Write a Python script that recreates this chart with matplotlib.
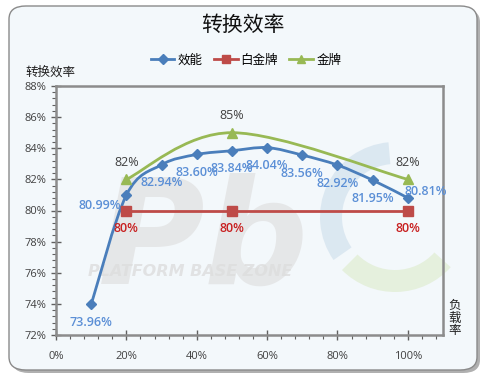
import numpy as np
import matplotlib
matplotlib.use('Agg')
import matplotlib.pyplot as plt
from matplotlib.path import Path
from matplotlib.patches import PathPatch, FancyBboxPatch, Wedge
from matplotlib.ticker import MultipleLocator, FuncFormatter

plt.rcParams['font.family'] = ['Noto Sans CJK SC', 'DejaVu Sans']

# data
load = [10, 20, 30, 40, 50, 60, 70, 80, 90, 100]
eff = [73.96, 80.99, 82.94, 83.60, 83.84, 84.04, 83.56, 82.92, 81.95, 80.81]
plat_load = [20, 50, 100]
plat_eff = [80, 80, 80]
gold_load = [20, 50, 100]
gold_eff = [82, 85, 82]

blue = '#4a7ebb'
blue_lbl = '#5b8fd6'
red = '#be4b48'
red_lbl = '#c82020'
green = '#98b954'


def smooth(xs, ys):
    # excel-style smoothed line as cubic bezier segments
    p = np.column_stack([xs, ys]).astype(float)
    verts = [p[0]]
    codes = [Path.MOVETO]
    n = len(p)
    for i in range(n - 1):
        p0 = p[i - 1] if i > 0 else p[i]
        p3 = p[i + 2] if i + 2 < n else p[i + 1]
        c1 = p[i] + (p[i + 1] - p0) / 6
        c2 = p[i + 1] - (p3 - p[i]) / 6
        verts += [c1, c2, p[i + 1]]
        codes += [Path.CURVE4] * 3
    return Path(verts, codes)


fig = plt.figure(figsize=(4.83, 3.75), dpi=100)
fig.patch.set_facecolor('white')

# rounded chart frame with shadow
shadow = FancyBboxPatch((12 / 483, 2 / 375), 468 / 483, 364 / 375,
                        boxstyle='round,pad=0,rounding_size=0.035',
                        transform=fig.transFigure, fc='#b0b0b0', ec='none', zorder=-3)
fig.patches.append(shadow)
frame = FancyBboxPatch((9 / 483, 5 / 375), 468 / 483, 364 / 375,
                       boxstyle='round,pad=0,rounding_size=0.035',
                       transform=fig.transFigure, fc='#f3f8fb', ec='#8a8a8a', lw=1.0, zorder=-2)
fig.patches.append(frame)

# watermark swooshes (inches from bottom-left)
fig.patches.append(Wedge((3.95, 1.58), 0.75, 95, 215, width=0.22, fc='#d6e4ef',
                         ec='none', alpha=0.8, transform=fig.dpi_scale_trans, zorder=-1))
fig.patches.append(Wedge((3.95, 1.58), 0.75, 225, 318, width=0.22, fc='#e2eed6',
                         ec='none', alpha=0.8, transform=fig.dpi_scale_trans, zorder=-1))

ax = fig.add_axes([56 / 483, 1 - 335 / 375, 387 / 483, 249 / 375])
ax.set_facecolor('none')
ax.set_zorder(1)

# watermark text
ax.text(12, 75.3, 'Pb', fontsize=105, fontweight='bold', style='italic',
        color='#e0e0e0', alpha=0.7, family='DejaVu Sans', zorder=0)
ax.text(9, 76.05, 'PLATFORM BASE ZONE', fontsize=11.5, fontweight='bold', style='italic',
        color='#dddddd', alpha=0.8, family='DejaVu Sans', va='center', zorder=0)

# lines
ax.add_patch(PathPatch(smooth(load, eff), fill=False, ec=blue, lw=2, zorder=3))
ax.plot(load, eff, ls='none', marker='D', ms=5.5, color=blue, zorder=4)
ax.plot(plat_load, plat_eff, color=red, lw=2, marker='s', ms=7, zorder=3)
ax.add_patch(PathPatch(smooth(gold_load, gold_eff), fill=False, ec=green, lw=2, zorder=3))
ax.plot(gold_load, gold_eff, ls='none', marker='^', ms=7, color=green, zorder=4)

# legend proxies
h1, = ax.plot([], [], color=blue, lw=2, marker='D', ms=5)
h2, = ax.plot([], [], color=red, lw=2, marker='s', ms=6)
h3, = ax.plot([], [], color=green, lw=2, marker='^', ms=6)
fig.legend([h1, h2, h3], ['效能', '白金牌', '金牌'], loc='center',
           bbox_to_anchor=(246 / 483, 1 - 60 / 375), ncol=3, frameon=False,
           fontsize=9, handlelength=1.9, columnspacing=0.9, handletextpad=0.25)

# data labels
lbl_font = dict(fontsize=9, family=['Open Sans', 'DejaVu Sans'], fontweight='semibold',
                ha='center', va='center')
offsets = {10: (0, -18), 20: (-27, -10), 100: (18, 6)}
for x, y in zip(load, eff):
    dx, dy = offsets.get(x, (0, -18))
    ax.annotate(f'{y:.2f}%', (x, y), xytext=(dx, dy), textcoords='offset pixels',
                color=blue_lbl, zorder=5, **lbl_font)
for x, y in zip(plat_load, plat_eff):
    ax.annotate(f'{y:.0f}%', (x, y), xytext=(0, -18), textcoords='offset pixels',
                color=red_lbl, zorder=5, **lbl_font)
gold_font = dict(lbl_font, fontweight='normal')
for x, y in zip(gold_load, gold_eff):
    ax.annotate(f'{y:.0f}%', (x, y), xytext=(0, 17), textcoords='offset pixels',
                color='#404040', zorder=5, **gold_font)

# axes
ax.set_xlim(0, 110)
ax.set_ylim(72, 88)
ax.xaxis.set_major_locator(MultipleLocator(20))
ax.xaxis.set_minor_locator(MultipleLocator(4))
ax.yaxis.set_major_locator(MultipleLocator(2))
ax.yaxis.set_minor_locator(MultipleLocator(0.4))
ax.xaxis.set_major_formatter(FuncFormatter(lambda v, p: f'{v:.0f}%' if v <= 100 else ''))
ax.yaxis.set_major_formatter(FuncFormatter(lambda v, p: f'{v:.0f}%'))
ax.tick_params(which='major', direction='inout', length=7, width=1, color='#606060',
               labelsize=8, labelcolor='#404040')
ax.tick_params(which='minor', direction='out', length=3, width=0.8, color='#606060')
ax.tick_params(axis='x', which='major', pad=8)
for lab in ax.get_xticklabels() + ax.get_yticklabels():
    lab.set_family(['Open Sans', 'DejaVu Sans'])
for s in ax.spines.values():
    s.set_color('#8c8c8c')
    s.set_linewidth(1.8)

fig.text(243 / 483, 1 - 25 / 375, '转换效率', fontsize=15, ha='center', va='center',
         color='#111111')
fig.text(25 / 483, 1 - 72 / 375, '转换效率', fontsize=9, ha='left', va='center',
         color='#222222')
fig.text(455 / 483, 1 - 318 / 375, '负\n载\n率', fontsize=9, ha='center', va='center',
         color='#222222', linespacing=0.95)

fig.savefig('out.png', dpi=100)
